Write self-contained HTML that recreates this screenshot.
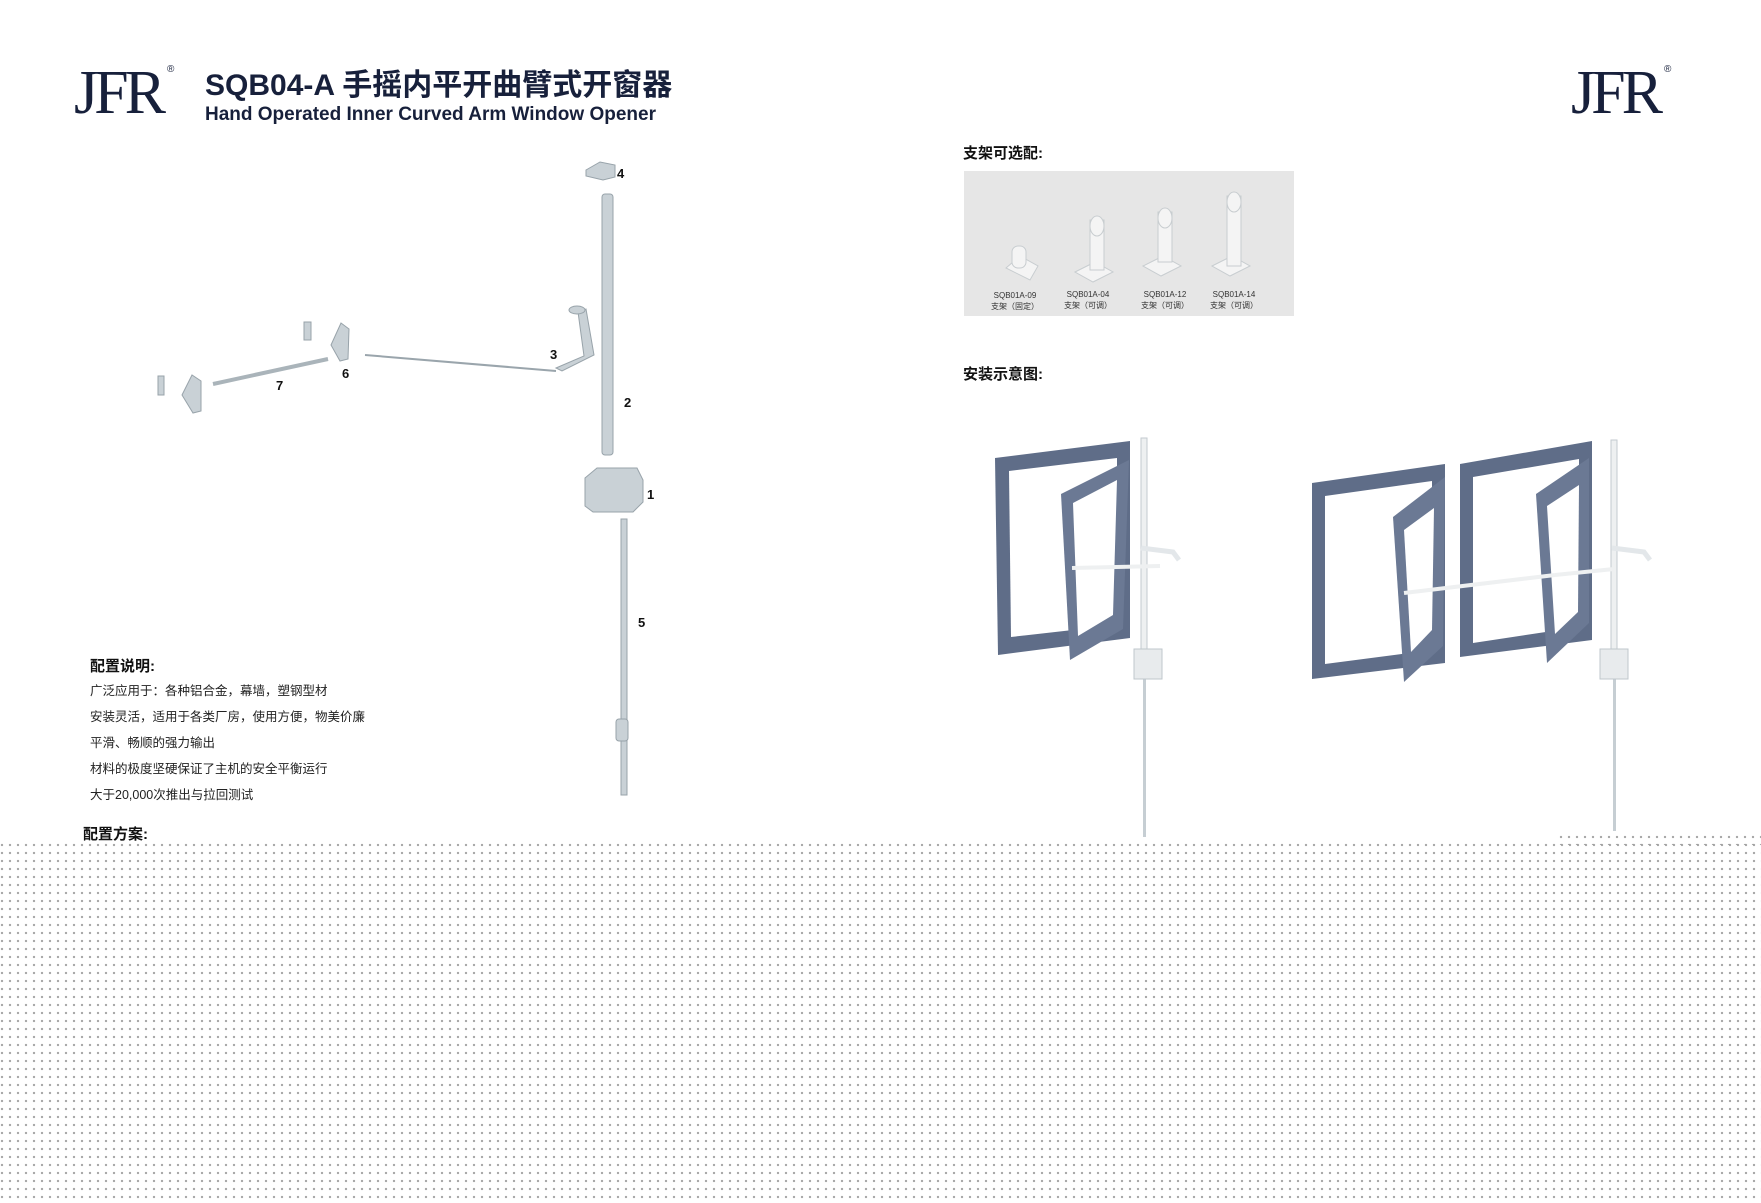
<!DOCTYPE html>
<html><head><meta charset="utf-8">
<style>
html,body{margin:0;padding:0;background:#fff}
body{width:1761px;height:1203px;position:relative;overflow:hidden;font-family:"Liberation Sans","Noto Sans CJK SC",sans-serif}
.dots{position:absolute;left:0;top:843px;width:1761px;height:360px;background-image:radial-gradient(circle at 2px 2px,#a0a0a0 0.8px,rgba(0,0,0,0) 1.4px);background-size:8px 8px}
.dots2{position:absolute;left:1559px;top:835px;width:202px;height:10px;background-image:radial-gradient(circle at 2px 2px,#a0a0a0 0.8px,rgba(0,0,0,0) 1.4px);background-size:8px 8px}
.t{position:absolute;white-space:nowrap;color:#111}
.logo{position:absolute;font-family:"Liberation Serif",serif;color:#17203b;font-size:62px;letter-spacing:-4px;line-height:1}
.reg{position:absolute;font-size:10px;color:#17203b}
h1{position:absolute;left:205px;top:60px;margin:0;font-size:30px;font-weight:bold;color:#17203b;font-family:"Liberation Sans","Noto Sans CJK SC",sans-serif;white-space:nowrap}
.sub{position:absolute;left:205px;top:104px;font-size:19px;font-weight:bold;color:#17203b;white-space:nowrap;letter-spacing:0px}
.hd{font-weight:bold;font-size:15px}
.ln{font-size:12.5px;color:#222}
.lbl{position:absolute;font-size:13px;font-weight:bold;color:#111}
.cap{position:absolute;font-size:8px;color:#333;text-align:center;width:70px;line-height:11px}
</style></head><body>
<div class="logo" style="left:74px;top:62px">JFR</div><div class="reg" style="left:167px;top:64px">®</div>
<div class="logo" style="left:1571px;top:62px">JFR</div><div class="reg" style="left:1664px;top:64px">®</div>
<h1>SQB04-A 手摇内平开曲臂式开窗器</h1>
<div class="sub">Hand Operated Inner Curved Arm Window Opener</div>

<div class="t hd" style="left:963px;top:142px">支架可选配:</div>
<div style="position:absolute;left:964px;top:171px;width:330px;height:145px;background:#e6e6e6"></div>
<div class="t hd" style="left:963px;top:363px">安装示意图:</div>

<div class="t hd" style="left:90px;top:655px">配置说明:</div>
<div class="t ln" style="left:90px;top:680px">广泛应用于：各种铝合金，幕墙，塑钢型材</div>
<div class="t ln" style="left:90px;top:706px">安装灵活，适用于各类厂房，使用方便，物美价廉</div>
<div class="t ln" style="left:90px;top:732px">平滑、畅顺的强力输出</div>
<div class="t ln" style="left:90px;top:758px">材料的极度坚硬保证了主机的安全平衡运行</div>
<div class="t ln" style="left:90px;top:784px">大于20,000次推出与拉回测试</div>
<div class="t hd" style="left:83px;top:823px">配置方案:</div>

<div class="dots"></div><div class="dots2"></div>

<svg width="1761" height="1203" style="position:absolute;left:0;top:0">
<g fill="#f4f4f4" stroke="#c8cdd0" stroke-width="1">
<path d="M1006,268 l14,-12 l18,10 l-8,14 z"/><rect x="1012" y="246" width="14" height="22" rx="6"/>
<path d="M1075,272 l20,-10 l18,10 l-20,10 z"/><rect x="1090" y="220" width="14" height="50"/><ellipse cx="1097" cy="226" rx="7" ry="10"/>
<path d="M1143,266 l20,-10 l18,10 l-20,10 z"/><rect x="1158" y="212" width="14" height="50"/><ellipse cx="1165" cy="218" rx="7" ry="10"/>
<path d="M1212,266 l20,-10 l18,10 l-20,10 z"/><rect x="1227" y="196" width="14" height="70"/><ellipse cx="1234" cy="202" rx="7" ry="10"/>
</g>
<g fill="#c9d1d6" stroke="#98a3aa" stroke-width="1">
<path d="M586,170 l14,-8 l15,3 l0,12 l-12,3 l-17,-4 z"/>
<rect x="602" y="194" width="11" height="261" rx="3"/>
<path d="M585,478 l12,-10 l40,0 l6,12 l0,22 l-10,10 l-40,0 l-8,-6 z"/>
<rect x="621" y="519" width="6" height="276"/>
<rect x="616" y="719" width="12" height="22" rx="3"/>
<path d="M556,368 l28,-12 l-6,-44 l8,-3 l8,46 l-32,16 z"/>
<ellipse cx="577" cy="310" rx="8" ry="4"/>
<line x1="365" y1="355" x2="556" y2="371" stroke="#9aa5ac" stroke-width="2"/>
<line x1="213" y1="384" x2="328" y2="359" stroke="#aab4ba" stroke-width="4"/>
<path d="M331,345 l10,-22 l8,6 l-1,30 l-8,2 z"/><rect x="304" y="322" width="7" height="18"/>
<path d="M182,395 l10,-20 l9,6 l0,30 l-8,2 z"/><rect x="158" y="376" width="6" height="19"/>
</g>
<g>
<path d="M995,458 L1130,441 L1130,638 L998,655 Z" fill="#5f6d88"/>
<path d="M1009,471 L1117,458 L1117,625 L1011,637 Z" fill="#fff"/>
<path d="M1061,494 L1129,460 L1123,629 L1070,660 Z" fill="#6b7994"/>
<path d="M1073,503 L1117,480 L1113,615 L1078,636 Z" fill="#fff"/>
<rect x="1141" y="438" width="6" height="215" fill="#eef0f1" stroke="#c3cacf"/>
<rect x="1143" y="679" width="3" height="158" fill="#c6ced3"/>
<line x1="1072" y1="568" x2="1160" y2="566" stroke="#eef0f1" stroke-width="4"/>
<path d="M1141,548 l32,4 l6,8" stroke="#e3e7ea" stroke-width="5" fill="none"/>
<rect x="1134" y="649" width="28" height="30" fill="#e8ebed" stroke="#bfc7cc"/>
</g>
<g>
<path d="M1312,483 L1445,464 L1445,663 L1312,679 Z" fill="#5f6d88"/>
<path d="M1325,496 L1432,481 L1432,650 L1325,664 Z" fill="#fff"/>
<path d="M1393,517 L1445,477 L1443,646 L1404,682 Z" fill="#6b7994"/>
<path d="M1404,530 L1434,508 L1432,630 L1411,652 Z" fill="#fff"/>
<path d="M1460,464 L1592,441 L1592,640 L1460,657 Z" fill="#5f6d88"/>
<path d="M1473,477 L1579,459 L1579,627 L1473,643 Z" fill="#fff"/>
<path d="M1536,494 L1589,458 L1589,623 L1547,663 Z" fill="#6b7994"/>
<path d="M1547,506 L1579,485 L1578,612 L1555,634 Z" fill="#fff"/>
<rect x="1611" y="440" width="6" height="213" fill="#eef0f1" stroke="#c3cacf"/>
<rect x="1613" y="679" width="3" height="152" fill="#c6ced3"/>
<line x1="1404" y1="593" x2="1555" y2="575" stroke="#eef0f1" stroke-width="4"/>
<line x1="1555" y1="575" x2="1614" y2="569" stroke="#eef0f1" stroke-width="4"/>
<path d="M1612,548 l32,4 l6,8" stroke="#e3e7ea" stroke-width="5" fill="none"/>
<rect x="1600" y="649" width="28" height="30" fill="#e8ebed" stroke="#bfc7cc"/>
</g>
</svg>

<div class="lbl" style="left:617px;top:166px">4</div>
<div class="lbl" style="left:624px;top:395px">2</div>
<div class="lbl" style="left:550px;top:347px">3</div>
<div class="lbl" style="left:647px;top:487px">1</div>
<div class="lbl" style="left:638px;top:615px">5</div>
<div class="lbl" style="left:342px;top:366px">6</div>
<div class="lbl" style="left:276px;top:378px">7</div>

<div class="cap" style="left:980px;top:290px">SQB01A-09<br>支架（固定）</div>
<div class="cap" style="left:1053px;top:289px">SQB01A-04<br>支架（可调）</div>
<div class="cap" style="left:1130px;top:289px">SQB01A-12<br>支架（可调）</div>
<div class="cap" style="left:1199px;top:289px">SQB01A-14<br>支架（可调）</div>
</body></html>
